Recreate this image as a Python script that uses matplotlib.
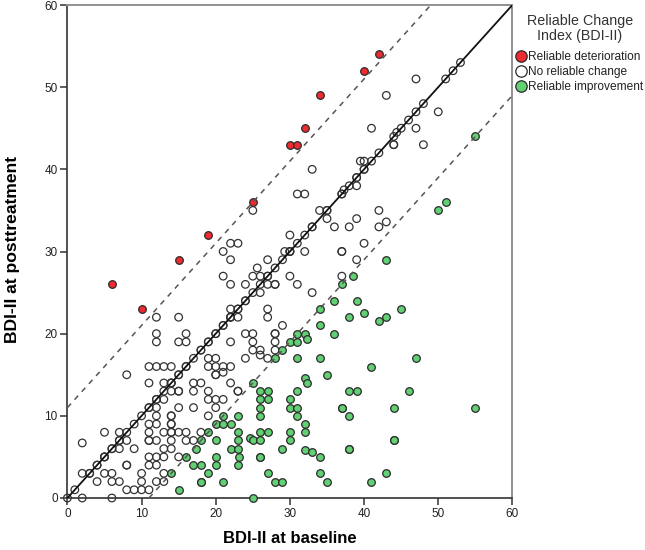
import matplotlib
matplotlib.use("Agg")
import matplotlib.pyplot as plt

plt.rcParams['font.family'] = ['Liberation Sans', 'DejaVu Sans']

det_x = [6, 10, 15, 19, 25, 30, 31, 32, 34, 40, 42]
det_y = [26, 23, 29, 32, 36, 43, 43, 45, 49, 52, 54]

diag_vals = [0, 1, 3, 4, 5, 5, 6, 6, 7, 7, 8, 9, 10, 11, 11, 12, 12, 13, 14, 14, 15, 15, 16, 16,
             17, 18, 18, 19, 19, 20, 20, 21, 21, 22, 22, 23, 23, 24, 24, 25, 26, 27, 27, 28,
             29, 30, 30, 31, 32, 33, 33, 35, 35, 37, 37, 38, 39, 39, 40, 40, 41, 42, 44, 45,
             46, 47, 48, 51, 52, 53]

none_x = [2, 6, 8, 9, 10, 11, 4, 6, 7, 10, 12, 13, 2, 3, 5, 6, 10, 13, 4, 8, 8, 11, 12, 5, 11, 12, 13, 15,
          7, 9, 13, 14, 2, 8, 11, 11, 12, 14, 16, 17, 5, 7, 11, 13, 14, 14, 15, 16, 18,
          11, 12, 14, 14, 12, 14, 14, 19, 12, 15, 17, 20, 13, 19, 20, 21, 14, 15, 15, 17, 19, 23, 23,
          11, 13, 14, 17, 18, 22, 8, 20, 20, 21, 11, 12, 13, 14, 19, 20, 21, 22,
          19, 20, 24, 26, 27, 25, 26, 12, 15, 16, 22, 25, 12, 16, 24, 25, 28,
          22, 23, 12, 15, 27,
          25, 22, 23, 21, 22, 27, 25.6, 21, 25, 26, 22, 24, 27, 28, 26, 22, 27,
          47, 43, 50, 47, 41, 44, 44.4, 44, 48, 39.5, 40, 33, 39, 37.3, 31, 32, 34, 42, 35, 39,
          43, 36, 38, 42, 30, 40, 29.3, 30, 32, 37, 37, 39, 30, 37, 28, 31, 33, 29, 28, 28, 28]
none_y = [0, 0, 1, 1, 1, 1, 2, 2, 2, 2, 2, 2, 3, 3, 3, 3, 3, 3, 4, 4, 4, 4, 4, 5, 5, 5, 5, 5,
          6, 6, 6, 6, 6.7, 7, 7, 7, 7, 7, 7, 7, 8, 8, 8, 8, 8, 8, 8, 8, 8,
          9, 9, 9, 9, 10, 10, 10, 10, 11, 11, 11, 11, 12, 12, 12, 12, 13, 13, 13, 13, 13, 13, 13,
          14, 14, 14, 14, 14, 14, 15, 15, 15, 15.3, 16, 16, 16, 16, 16, 16, 16, 16,
          17, 17, 17, 17.4, 17, 18, 18, 19, 19, 19, 19, 19, 20, 20, 20, 20, 20,
          22, 22, 22, 22, 22,
          35, 31, 31, 30, 29, 29, 28, 27, 27, 27, 26, 26, 26, 26, 25, 23, 23,
          51, 49, 47, 45, 45, 43, 44.5, 43, 43, 41, 41, 40, 38, 37.5, 37, 37, 35, 35, 34, 34,
          33.6, 33, 33, 33, 32, 31, 30, 30, 30, 30, 30, 29, 27, 27, 26, 26, 25, 21, 20, 19, 18]

imp_x = [55, 51, 50, 43, 38.5, 37, 36, 39, 34, 45, 40, 38, 43, 42, 34, 31, 32, 36, 32.3, 30, 31, 29,
         28, 31, 34, 47, 41, 35, 32, 32.3, 27, 31, 38, 39, 46, 27, 30, 30, 31, 37, 37, 44, 55, 31, 38,
         32, 27, 30, 32, 30, 44, 44, 29, 38, 38, 32, 33, 34, 27, 34, 43, 28, 29, 35, 41,
         25, 26, 26, 26, 26, 21, 23, 20, 21, 22, 19, 23, 26, 18, 20, 23, 24.6, 25, 26, 17.4, 22, 23,
         16, 20, 23.2, 26, 26, 17, 18, 20, 23, 14, 19, 18, 18, 21, 15, 25]
imp_y = [44, 36, 35, 29, 27, 26, 24, 24, 23, 23, 22.5, 22, 22, 21.6, 21, 20, 20, 20, 19.3, 19, 19, 18,
         17, 17, 17, 17, 16, 15, 14.6, 14, 13, 13, 13, 13, 13, 12, 12, 11, 11, 11, 11, 11, 11, 10, 10,
         9, 8, 8, 8, 7, 7, 7, 6, 6, 6, 5.8, 5.6, 5, 3, 3, 3, 2, 2, 2, 2,
         14, 13, 12, 11, 10, 10, 10, 9, 9, 9, 8, 8, 8, 7, 7, 7, 7.3, 7, 7, 6, 6, 6,
         5, 5, 5, 5, 5, 4, 4, 4, 4, 3, 3, 2, 2, 2, 1, 0]

ticks = [0, 10, 20, 30, 40, 50, 60]
labels = ['Reliable deterioration', 'No reliable change', 'Reliable improvement']

fig = plt.figure(figsize=(6.45, 5.5), dpi=100)
ax = fig.add_axes([67.4 / 645, 52 / 550, 445 / 645, 493 / 550])
ax.set_xlim(0, 60)
ax.set_ylim(0, 60)

size = 30
edge = '#2a2a2a'
ax.scatter(det_x, det_y, s=size, c='#ee2b30', edgecolors=edge, linewidths=0.9, zorder=3, clip_on=False)
ax.scatter(none_x + diag_vals, none_y + diag_vals, s=size, facecolors='none', edgecolors='#333333',
           linewidths=0.9, zorder=3, clip_on=False)
ax.scatter(imp_x, imp_y, s=size, c='#62d173', edgecolors=edge, linewidths=0.9, zorder=3, clip_on=False)

ax.plot([0, 60], [0, 60], color='#111111', lw=1.3, zorder=4)
ax.plot([0, 49], [11, 60], color='#555555', lw=1.1, ls=(0, (3.5, 3.5)), zorder=4)
ax.plot([11, 60], [0, 49], color='#555555', lw=1.1, ls=(0, (3.5, 3.5)), zorder=4)

for s in ('left', 'bottom'):
    ax.spines[s].set_color('#333333')
    ax.spines[s].set_linewidth(1.2)
for s in ('top', 'right'):
    ax.spines[s].set_color('#909090')
    ax.spines[s].set_linewidth(1.4)

ax.set_xticks(ticks)
ax.set_yticks(ticks)
ax.tick_params(length=5, width=1.1, color='#333333', labelsize=8.5, labelcolor='#222222', pad=2)
ax.set_xlabel('BDI-II at baseline', fontsize=12, fontweight='bold', labelpad=8)
ax.set_ylabel('BDI-II at posttreatment', fontsize=12.6, fontweight='bold')
ax.yaxis.set_label_coords(-47 / 445, 0.505)

legend_handles = [
    plt.Line2D([], [], ls='', marker='o', ms=8.2, mfc='#ee2b30', mec=edge, mew=0.9),
    plt.Line2D([], [], ls='', marker='o', ms=8.2, mfc='white', mec=edge, mew=0.9),
    plt.Line2D([], [], ls='', marker='o', ms=8.2, mfc='#62d173', mec=edge, mew=0.9),
]
fig.text(580 / 645, 1 - 28.5 / 550, 'Reliable Change\nIndex (BDI-II)', ha='center', va='center',
         fontsize=10.3, linespacing=1.02, color='#333333')
fig.legend(legend_handles, labels, loc='upper left', bbox_to_anchor=(515.5 / 645, 1 - 51 / 550),
           frameon=False, fontsize=8.55, handlelength=0.9, handletextpad=0.15,
           labelspacing=0.25, borderaxespad=0, borderpad=0, labelcolor='#222222')

fig.savefig('out.png', dpi=100)
